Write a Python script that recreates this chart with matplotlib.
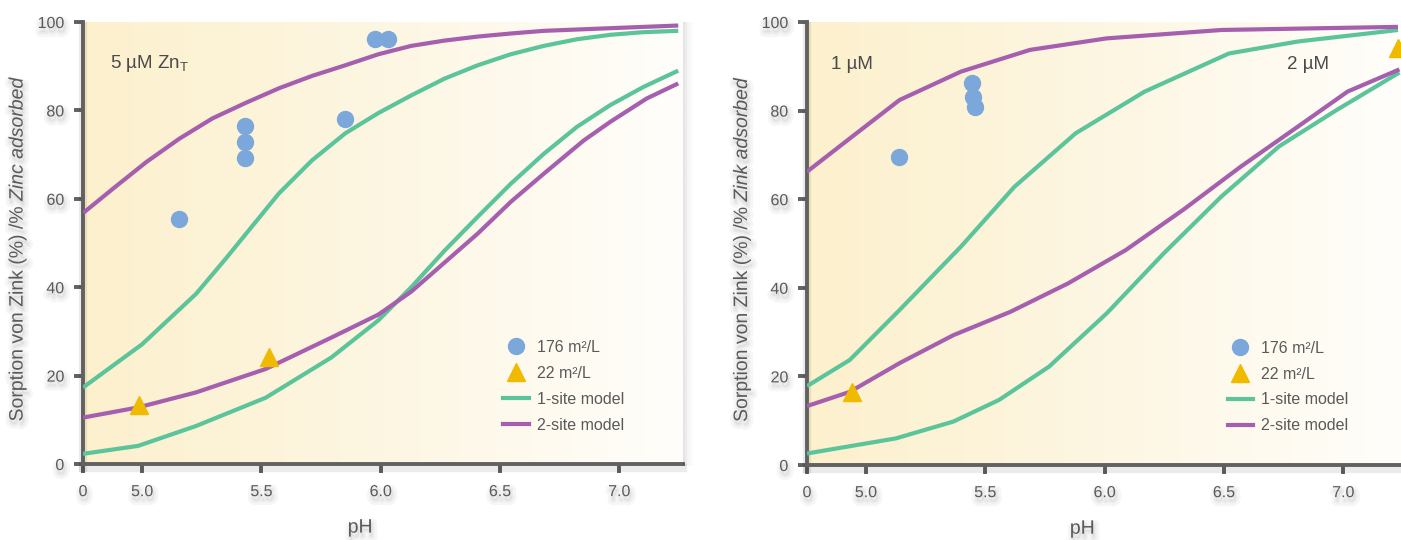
import numpy as np
import matplotlib
matplotlib.use("Agg")
import matplotlib.pyplot as plt
import matplotlib.patheffects as pe
from matplotlib.colors import LinearSegmentedColormap
from matplotlib.lines import Line2D

plt.rcParams['font.family'] = ['Liberation Sans', 'DejaVu Sans']
plt.rcParams['mathtext.fontset'] = 'custom'
plt.rcParams['mathtext.rm'] = 'Liberation Sans'
plt.rcParams['mathtext.it'] = 'Liberation Sans:italic'

# --- left panel: 5 uM Zn total ---
L_ph_2s_hi = [4.753, 4.878, 5.017, 5.156, 5.295, 5.434, 5.573, 5.712, 5.851, 5.99,
              6.128, 6.268, 6.406, 6.545, 6.684, 6.823, 6.962, 7.247]
L_val_2s_hi = [56.8, 62.3, 68.3, 73.6, 78.2, 81.7, 85.0, 87.8, 90.2, 92.7,
               94.6, 95.8, 96.7, 97.4, 98.0, 98.3, 98.6, 99.2]
L_ph_1s_hi = [4.752, 5.0, 5.226, 5.351, 5.434, 5.573, 5.712, 5.851, 5.99,
              6.128, 6.268, 6.406, 6.545, 6.684, 6.823, 6.962, 7.101, 7.247]
L_val_1s_hi = [17.3, 27.1, 38.5, 46.5, 52.0, 61.2, 68.7, 74.8, 79.4,
               83.4, 87.2, 90.2, 92.7, 94.6, 96.1, 97.1, 97.7, 98.0]
L_ph_2s_lo = [4.752, 4.983, 5.226, 5.518, 5.793, 5.99, 6.128, 6.268, 6.406, 6.545,
              6.684, 6.851, 6.962, 7.115, 7.247]
L_val_2s_lo = [10.5, 12.8, 16.2, 21.5, 28.6, 33.8, 39.0, 45.6, 52.1, 59.3,
               65.7, 73.2, 77.4, 82.7, 86.1]
L_ph_1s_lo = [4.752, 4.983, 5.226, 5.518, 5.793, 5.99, 6.128, 6.268, 6.406, 6.545,
              6.684, 6.823, 6.962, 7.101, 7.247]
L_val_1s_lo = [2.3, 4.1, 8.6, 15.0, 24.1, 32.5, 40.0, 48.3, 55.9, 63.4,
               70.2, 76.3, 81.2, 85.3, 89.0]
L_circ_ph = [5.153, 5.431, 5.431, 5.431, 5.852, 5.977, 6.031]
L_circ_val = [55.5, 76.4, 72.8, 69.2, 78.0, 96.1, 96.1]
L_tri_ph = [4.986, 5.531]
L_tri_val = [13.3, 24.3]

# --- right panel: 1 uM and 2 uM ---
R_ph_2s_hi = [4.753, 4.932, 5.141, 5.398, 5.687, 6.008, 6.49, 7.229]
R_val_2s_hi = [66.2, 73.7, 82.4, 88.8, 93.7, 96.3, 98.2, 98.9]
R_ph_1s_hi = [4.753, 4.932, 5.141, 5.398, 5.622, 5.879, 6.168, 6.521, 6.81, 7.229]
R_val_1s_hi = [17.8, 23.7, 35.0, 49.3, 62.8, 74.9, 84.3, 92.9, 95.6, 98.2]
R_ph_2s_lo = [4.753, 4.932, 5.141, 5.366, 5.606, 5.847, 6.088, 6.329, 6.569, 6.81, 7.018, 7.235]
R_val_2s_lo = [13.3, 16.5, 23.0, 29.3, 34.6, 41.0, 48.5, 57.6, 67.3, 76.4, 84.3, 89.3]
R_ph_1s_lo = [4.753, 5.125, 5.366, 5.558, 5.767, 6.008, 6.248, 6.489, 6.73, 6.971, 7.235]
R_val_1s_lo = [2.6, 6.0, 9.8, 14.7, 22.2, 34.2, 47.8, 60.6, 71.9, 80.1, 88.6]
R_circ_ph = [5.138, 5.444, 5.448, 5.456]
R_circ_val = [69.5, 86.2, 83.1, 80.8]
R_tri_ph = [4.941, 7.228]
R_tri_val = [16.5, 94.1]

x_ticks = [5.0, 5.5, 6.0, 6.5, 7.0]
x_ticklabels = ['5.0', '5.5', '6.0', '6.5', '7.0']
y_ticks = [0, 20, 40, 60, 80, 100]

BLUE = '#7ba7db'
YELLOW = '#f0ba00'
GREEN = '#5cc49a'
PURPLE = '#a55fae'
AXIS = '#616161'
TEXT = '#5a5a5a'

bg_cmap = LinearSegmentedColormap.from_list('bg', ['#fcf0cd', '#fdf6e2', '#fffefb'])

def soft_shadow():
    return [pe.Stroke(linewidth=7, foreground='#000000', alpha=0.035, offset=(1, -3)),
            pe.Stroke(linewidth=3, foreground='#000000', alpha=0.04, offset=(1, -3)),
            pe.Normal()]

fig = plt.figure(figsize=(14.01, 5.40), dpi=100)

def panel(rect, xmin, xmax, ylabel_italic):
    ax = fig.add_axes(rect)
    ax.set_xlim(xmin, xmax)
    ax.set_ylim(0, 100)
    grad = np.linspace(0, 1, 256).reshape(1, -1)
    ax.imshow(grad, cmap=bg_cmap, extent=[xmin, xmax, 0, 100], aspect='auto', zorder=0)
    for s in ['top', 'right']:
        ax.spines[s].set_visible(False)
    for s in ['left', 'bottom']:
        ax.spines[s].set_color(AXIS)
        ax.spines[s].set_linewidth(2.8)
        ax.spines[s].set_path_effects([pe.SimpleLineShadow(offset=(0, -3), shadow_color='#000000',
                                                           alpha=0.08, linewidth=6), pe.Normal()])
    ax.set_xticks([xmin] + x_ticks)
    ax.set_xticklabels(['0'] + x_ticklabels)
    ax.set_yticks(y_ticks)
    ax.tick_params(axis='both', colors=AXIS, width=2.8, length=6.5, labelcolor=TEXT, labelsize=11.5)
    ax.tick_params(axis='x', pad=8)
    ax.tick_params(axis='y', pad=7)
    for lab in ax.get_xticklabels() + ax.get_yticklabels():
        lab.set_path_effects(soft_shadow())
    ax.text(0.462, -0.145, 'pH', transform=ax.transAxes, ha='center', va='center',
            fontsize=14, color=TEXT, path_effects=soft_shadow())
    ax.text(-0.108, 0.489, 'Sorption von Zink (%) /% $\\it{' + ylabel_italic.replace(' ', '\\ ') + '}$',
            transform=ax.transAxes, rotation=90, ha='center', va='center',
            fontsize=14, color=TEXT, path_effects=soft_shadow())
    return ax

def curves(ax, sets):
    for ph, val, col in sets:
        ax.plot(ph, val, color=col, lw=3, solid_capstyle='butt', solid_joinstyle='round', zorder=3)

def add_legend(ax, anchor):
    handles = [
        Line2D([], [], ls='none', marker='o', ms=11.5, color=BLUE, label='176 m²/L'),
        Line2D([], [], ls='none', marker='^', ms=13.5, color=YELLOW, label='22 m²/L'),
        Line2D([], [], color=GREEN, lw=3, label='1-site model'),
        Line2D([], [], color=PURPLE, lw=3, label='2-site model'),
    ]
    leg = ax.legend(handles=handles, loc='upper left', bbox_to_anchor=anchor, frameon=False,
                    fontsize=11.5, handlelength=1.6, handletextpad=0.5, labelspacing=0.68,
                    borderaxespad=0)
    for t in leg.get_texts():
        t.set_color(TEXT)

# left panel
axL = panel([83 / 1401, 1 - 464 / 540, 600 / 1401, 442 / 540], 4.752, 7.267, 'Zinc adsorbed')
curves(axL, [(L_ph_1s_lo, L_val_1s_lo, GREEN), (L_ph_1s_hi, L_val_1s_hi, GREEN),
             (L_ph_2s_lo, L_val_2s_lo, PURPLE), (L_ph_2s_hi, L_val_2s_hi, PURPLE)])
axL.plot(L_circ_ph, L_circ_val, ls='none', marker='o', ms=11.5, color=BLUE, zorder=4)
axL.plot(L_tri_ph, L_tri_val, ls='none', marker='^', ms=13.5, color=YELLOW, zorder=4)
axL.text(0.045, 0.905, '5 µM Zn$_\\mathrm{T}$', transform=axL.transAxes, fontsize=13.5,
         color='#4a4a4a', va='center')
add_legend(axL, (0.69, 0.295))

# right panel
axR = panel([807 / 1401, 1 - 465 / 540, 596 / 1401, 443 / 540], 4.753, 7.25, 'Zink adsorbed')
curves(axR, [(R_ph_1s_lo, R_val_1s_lo, GREEN), (R_ph_1s_hi, R_val_1s_hi, GREEN),
             (R_ph_2s_lo, R_val_2s_lo, PURPLE), (R_ph_2s_hi, R_val_2s_hi, PURPLE)])
axR.plot(R_circ_ph, R_circ_val, ls='none', marker='o', ms=11.5, color=BLUE, zorder=4)
axR.plot(R_tri_ph, R_tri_val, ls='none', marker='^', ms=13.5, color=YELLOW, zorder=4, clip_on=False)
axR.text(0.04, 0.905, '1 µM', transform=axR.transAxes, fontsize=13.5, color='#4a4a4a', va='center')
axR.text(0.805, 0.905, '2 µM', transform=axR.transAxes, fontsize=13.5, color='#4a4a4a', va='center')
add_legend(axR, (0.695, 0.295))

# soft drop shadow along the right edge of the left panel
for i, a in enumerate([0.10, 0.07, 0.045, 0.025, 0.012]):
    fig.patches.append(plt.Rectangle(((683 + i * 2) / 1401, 1 - 466 / 540), 2 / 1401, 444 / 540,
                                     transform=fig.transFigure, color='black', alpha=a, lw=0))

fig.savefig('out.png', dpi=100)
